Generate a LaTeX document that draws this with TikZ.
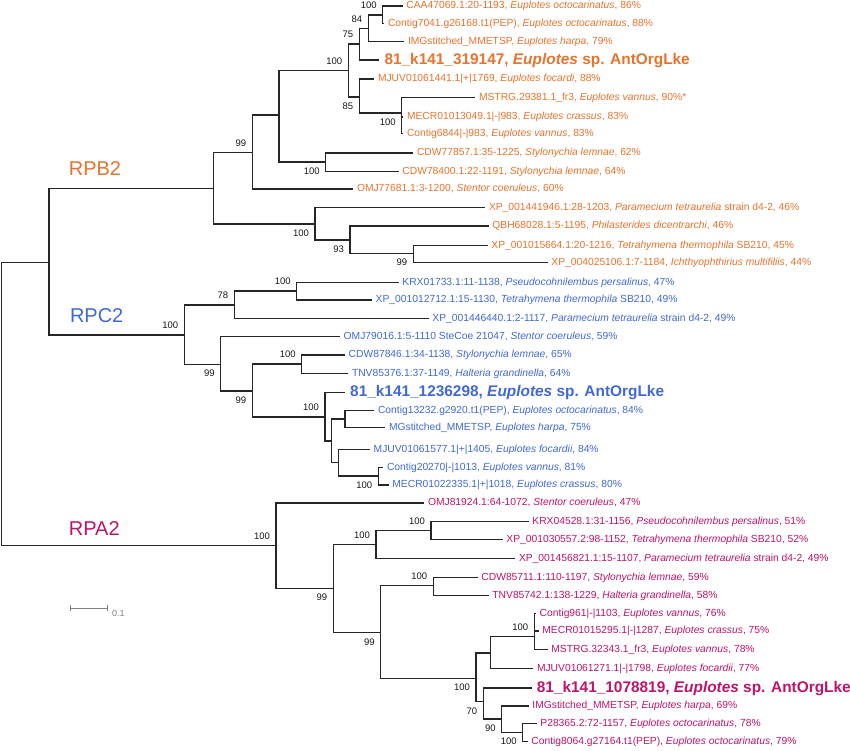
\documentclass[tikz,border=0pt]{standalone}
\usepackage{fontspec}
\setmainfont{Liberation Sans}
\usetikzlibrary{arrows.meta}
\definecolor{rpb}{HTML}{E8732C}
\definecolor{rpc}{HTML}{4169D6}
\definecolor{rpa}{HTML}{BE1469}
\tikzset{
  branch/.style={draw=black!85, line width=1.45pt},
  leaf/.style={anchor=west, inner xsep=3.5pt, inner ysep=0pt, text height=7.4pt, text depth=2pt, font=\fontsize{10.3}{12}\selectfont},
  newseq/.style={leaf, inner xsep=5pt, text height=11pt, text depth=3pt, font=\fontsize{15.4}{18}\selectfont\bfseries},
  bs/.style={font=\fontsize{9.5}{11}\selectfont, inner sep=3pt, text=black!90},
  grp/.style={font=\fontsize{20}{24}\selectfont},
  scalebar/.style={draw=black!50, line width=0.9pt, {Bar[width=6pt]-Bar[width=6pt]}},
}
\begin{document}
\begin{tikzpicture}[x=1pt, y=-1pt, label distance=4pt]
  \fill[white] (0,0) rectangle (850,750);
  \useasboundingbox (0,0) rectangle (850,750);

  % RPB2 leaves
  \node[leaf, rpb] (B1) at (402.7,6) {CAA47069.1:20-1193, \textit{Euplotes octocarinatus}, 86\%};
  \node[leaf, rpb] (B2) at (384.3,23.3) {Contig7041.g26168.t1(PEP), \textit{Euplotes octocarinatus}, 88\%};
  \node[leaf, rpb] (B3) at (404.3,41.7) {IMGstitched\_MMETSP, \textit{Euplotes harpa}, 79\%};
  \node[newseq, rpb] (B4) at (379.3,60) {81\_k141\_319147, \textit{Euplotes} sp. AntOrgLke};
  \node[leaf, rpb] (B5) at (374.3,79) {MJUV01061441.1|+|1769, \textit{Euplotes focardi}, 88\%};
  \node[leaf, rpb] (B6) at (475.3,97.7) {MSTRG.29381.1\_fr3, \textit{Euplotes vannus}, 90\%*};
  \node[leaf, rpb] (B7) at (403.3,117) {MECR01013049.1|-|983, \textit{Euplotes crassus}, 83\%};
  \node[leaf, rpb] (B8) at (403.3,133.3) {Contig6844|-|983, \textit{Euplotes vannus}, 83\%};
  \node[leaf, rpb] (B9) at (413.3,153) {CDW77857.1:35-1225, \textit{Stylonychia lemnae}, 62\%};
  \node[leaf, rpb] (B10) at (398.7,171.7) {CDW78400.1:22-1191, \textit{Stylonychia lemnae}, 64\%};
  \node[leaf, rpb] (B11) at (353.3,189) {OMJ77681.1:3-1200, \textit{Stentor coeruleus}, 60\%};
  \node[leaf, rpb] (B12) at (485.3,207.7) {XP\_001441946.1:28-1203, \textit{Paramecium tetraurelia} strain d4-2, 46\%};
  \node[leaf, rpb] (B13) at (488.7,226) {QBH68028.1:5-1195, \textit{Philasterides dicentrarchi}, 46\%};
  \node[leaf, rpb] (B14) at (487.7,245.7) {XP\_001015664.1:20-1216, \textit{Tetrahymena thermophila} SB210, 45\%};
  \node[leaf, rpb] (B15) at (547.7,262.7) {XP\_004025106.1:7-1184, \textit{Ichthyophthirius multifiliis}, 44\%};

  % RPC2 leaves
  \node[leaf, rpc] (C1) at (398.7,282.7) {KRX01733.1:11-1138, \textit{Pseudocohnilembus persalinus}, 47\%};
  \node[leaf, rpc] (C2) at (372,300) {XP\_001012712.1:15-1130, \textit{Tetrahymena thermophila} SB210, 49\%};
  \node[leaf, rpc] (C3) at (428.7,318.7) {XP\_001446440.1:2-1117, \textit{Paramecium tetraurelia} strain d4-2, 49\%};
  \node[leaf, rpc] (C4) at (340,336.7) {OMJ79016.1:5-1110 SteCoe 21047, \textit{Stentor coeruleus}, 59\%};
  \node[leaf, rpc] (C5) at (345,355) {CDW87846.1:34-1138, \textit{Stylonychia lemnae}, 65\%};
  \node[leaf, rpc] (C6) at (348.3,373.3) {TNV85376.1:37-1149, \textit{Halteria grandinella}, 64\%};
  \node[newseq, rpc] (C7) at (345,392.7) {81\_k141\_1236298, \textit{Euplotes} sp. AntOrgLke};
  \node[leaf, rpc] (C8) at (374.3,410.7) {Contig13232.g2920.t1(PEP), \textit{Euplotes octocarinatus}, 84\%};
  \node[leaf, rpc] (C9) at (385.3,427.3) {MGstitched\_MMETSP, \textit{Euplotes harpa}, 75\%};
  \node[leaf, rpc] (C10) at (370,449.3) {MJUV01061577.1|+|1405, \textit{Euplotes focardii}, 84\%};
  \node[leaf, rpc] (C11) at (383.3,467.3) {Contig20270|-|1013, \textit{Euplotes vannus}, 81\%};
  \node[leaf, rpc] (C12) at (388.7,485) {MECR01022335.1|+|1018, \textit{Euplotes crassus}, 80\%};

  % RPA2 leaves
  \node[leaf, rpa] (A1) at (424.3,503) {OMJ81924.1:64-1072, \textit{Stentor coeruleus}, 47\%};
  \node[leaf, rpa] (A2) at (528.7,521.3) {KRX04528.1:31-1156, \textit{Pseudocohnilembus persalinus}, 51\%};
  \node[leaf, rpa] (A3) at (502.7,539.3) {XP\_001030557.2:98-1152, \textit{Tetrahymena thermophila} SB210, 52\%};
  \node[leaf, rpa] (A4) at (515.3,558.3) {XP\_001456821.1:15-1107, \textit{Paramecium tetraurelia} strain d4-2, 49\%};
  \node[leaf, rpa] (A5) at (477.7,577.3) {CDW85711.1:110-1197, \textit{Stylonychia lemnae}, 59\%};
  \node[leaf, rpa] (A6) at (488.7,595.3) {TNV85742.1:138-1229, \textit{Halteria grandinella}, 58\%};
  \node[leaf, rpa] (A7) at (536,613.3) {Contig961|-|1103, \textit{Euplotes vannus}, 76\%};
  \node[leaf, rpa] (A8) at (538.7,631) {MECR01015295.1|-|1287, \textit{Euplotes crassus}, 75\%};
  \node[leaf, rpa] (A9) at (547.7,649.3) {MSTRG.32343.1\_fr3, \textit{Euplotes vannus}, 78\%};
  \node[leaf, rpa] (A10) at (533.3,668.7) {MJUV01061271.1|-|1798, \textit{Euplotes focardii}, 77\%};
  \node[newseq, rpa] (A11) at (531.7,688) {81\_k141\_1078819, \textit{Euplotes} sp. AntOrgLke};
  \node[leaf, rpa] (A12) at (528.7,706) {IMGstitched\_MMETSP, \textit{Euplotes harpa}, 69\%};
  \node[leaf, rpa] (A13) at (536.7,723.3) {P28365.2:72-1157, \textit{Euplotes octocarinatus}, 78\%};
  \node[leaf, rpa] (A14) at (527.7,741.7) {Contig8064.g27164.t1(PEP), \textit{Euplotes octocarinatus}, 79\%};

  % inner nodes with bootstrap values
  \coordinate[label={[bs]above left:100}] (b1) at (382.7,15);
  \coordinate[label={[bs]above left:84}] (b2) at (368.3,28.3);
  \coordinate[label={[bs]above left:75}] (b3) at (359.3,44);
  \coordinate[label={[bs]below left:100}] (b4) at (401.7,113);
  \coordinate[label={[bs]below left:85}] (b5) at (359.3,97);
  \coordinate[label={[bs]above left:100}] (b6) at (348.3,70.5);
  \coordinate[label={[bs]below left:100}] (b7) at (325.7,162);
  \coordinate (b8) at (279,115);
  \coordinate[label={[bs]above left:99}] (b9) at (252.3,152.3);
  \coordinate[label={[bs]below left:99}] (b10) at (413.3,253.3);
  \coordinate[label={[bs]below left:93}] (b11) at (350,240);
  \coordinate[label={[bs]below left:100}] (b12) at (315,224);
  \coordinate (b13) at (213.3,188.3);

  \coordinate[label={[bs]above left:100}] (c1) at (296.7,291);
  \coordinate[label={[bs]above left:78}] (c2) at (234.3,305);
  \coordinate[label={[bs]above left:100}] (c3) at (301.7,364);
  \coordinate (c4) at (345,419);
  \coordinate[label={[bs]below left:100}] (c5) at (378.3,476);
  \coordinate (c6) at (338.3,462.7);
  \coordinate (c7) at (331.7,441);
  \coordinate[label={[bs]above left:100}] (c8) at (325,417);
  \coordinate[label={[bs]below left:99}] (c9) at (252.3,391);
  \coordinate[label={[bs]below left:99}] (c10) at (220.7,364.3);
  \coordinate[label={[bs]above left:100}] (c11) at (184.3,335);
  \coordinate (r1) at (49,262.3);

  \coordinate[label={[bs]above left:100}] (a1) at (431,530.7);
  \coordinate[label={[bs]above left:100}] (a2) at (376,544.3);
  \coordinate[label={[bs]above left:100}] (a3) at (433.3,585.7);
  \coordinate[label={[bs]above left:100}] (a4) at (534.3,636.7);
  \coordinate (a5) at (490.7,653);
  \coordinate[label={[bs]below left:100}] (a6) at (522.7,732.3);
  \coordinate[label={[bs]below left:90}] (a7) at (501.7,719);
  \coordinate[label={[bs]below left:70}] (a8) at (483.3,701.7);
  \coordinate[label={[bs]below left:100}] (a9) at (476,678.3);
  \coordinate[label={[bs]below left:99}] (a10) at (380.7,632.7);
  \coordinate[label={[bs]below left:99}] (a11) at (333.3,588.3);
  \coordinate[label={[bs]above left:100}] (a12) at (276,545.7);
  \coordinate (root) at (1.7,404);

  % branches
  \draw[branch] (b1) |- (B1.west);
  \draw[branch] (b1) |- (B2.west);
  \draw[branch] (b2) |- (b1);
  \draw[branch] (b2) |- (B3.west);
  \draw[branch] (b3) |- (b2);
  \draw[branch] (b3) |- (B4.west);
  \draw[branch] (b4) |- (B6.west);
  \draw[branch] (b4) |- (B7.west);
  \draw[branch] (b4) |- (B8.west);
  \draw[branch] (b5) |- (B5.west);
  \draw[branch] (b5) |- (b4);
  \draw[branch] (b6) |- (b3);
  \draw[branch] (b6) |- (b5);
  \draw[branch] (b7) |- (B9.west);
  \draw[branch] (b7) |- (B10.west);
  \draw[branch] (b8) |- (b6);
  \draw[branch] (b8) |- (b7);
  \draw[branch] (b9) |- (b8);
  \draw[branch] (b9) |- (B11.west);
  \draw[branch] (b10) |- (B14.west);
  \draw[branch] (b10) |- (B15.west);
  \draw[branch] (b11) |- (B13.west);
  \draw[branch] (b11) |- (b10);
  \draw[branch] (b12) |- (B12.west);
  \draw[branch] (b12) |- (b11);
  \draw[branch] (b13) |- (b9);
  \draw[branch] (b13) |- (b12);

  \draw[branch] (c1) |- (C1.west);
  \draw[branch] (c1) |- (C2.west);
  \draw[branch] (c2) |- (c1);
  \draw[branch] (c2) |- (C3.west);
  \draw[branch] (c3) |- (C5.west);
  \draw[branch] (c3) |- (C6.west);
  \draw[branch] (c4) |- (C8.west);
  \draw[branch] (c4) |- (C9.west);
  \draw[branch] (c5) |- (C11.west);
  \draw[branch] (c5) |- (C12.west);
  \draw[branch] (c6) |- (C10.west);
  \draw[branch] (c6) |- (c5);
  \draw[branch] (c7) |- (c4);
  \draw[branch] (c7) |- (c6);
  \draw[branch] (c8) |- (C7.west);
  \draw[branch] (c8) |- (c7);
  \draw[branch] (c9) |- (c3);
  \draw[branch] (c9) |- (c8);
  \draw[branch] (c10) |- (C4.west);
  \draw[branch] (c10) |- (c9);
  \draw[branch] (c11) |- (c2);
  \draw[branch] (c11) |- (c10);
  \draw[branch] (r1) |- (b13);
  \draw[branch] (r1) |- (c11);

  \draw[branch] (a1) |- (A2.west);
  \draw[branch] (a1) |- (A3.west);
  \draw[branch] (a2) |- (a1);
  \draw[branch] (a2) |- (A4.west);
  \draw[branch] (a3) |- (A5.west);
  \draw[branch] (a3) |- (A6.west);
  \draw[branch] (a4) |- (A7.west);
  \draw[branch] (a4) |- (A8.west);
  \draw[branch] (a4) |- (A9.west);
  \draw[branch] (a5) |- (a4);
  \draw[branch] (a5) |- (A10.west);
  \draw[branch] (a6) |- (A13.west);
  \draw[branch] (a6) |- (A14.west);
  \draw[branch] (a7) |- (A12.west);
  \draw[branch] (a7) |- (a6);
  \draw[branch] (a8) |- (A11.west);
  \draw[branch] (a8) |- (a7);
  \draw[branch] (a9) |- (a5);
  \draw[branch] (a9) |- (a8);
  \draw[branch] (a10) |- (a3);
  \draw[branch] (a10) |- (a9);
  \draw[branch] (a11) |- (a2);
  \draw[branch] (a11) |- (a10);
  \draw[branch] (a12) |- (A1.west);
  \draw[branch] (a12) |- (a11);
  \draw[branch] (root) |- (r1);
  \draw[branch] (root) |- (a12);

  % clade names
  \node[grp, text=rpb] (RPB) at (95,169) {RPB2};
  \node[grp, text=rpc] (RPC) at (96.7,316) {RPC2};
  \node[grp, text=rpa] (RPA) at (94.3,529) {RPA2};

  % scale bar
  \coordinate (sbL) at (70,608.3);
  \coordinate (sbR) at (108.3,608.3);
  \draw[scalebar] (sbL) -- (sbR);
  \node[font=\fontsize{9}{10}\selectfont, text=black!50, anchor=west, inner sep=1pt] (sbT) at (111,613) {0.1};
\end{tikzpicture}
\end{document}
